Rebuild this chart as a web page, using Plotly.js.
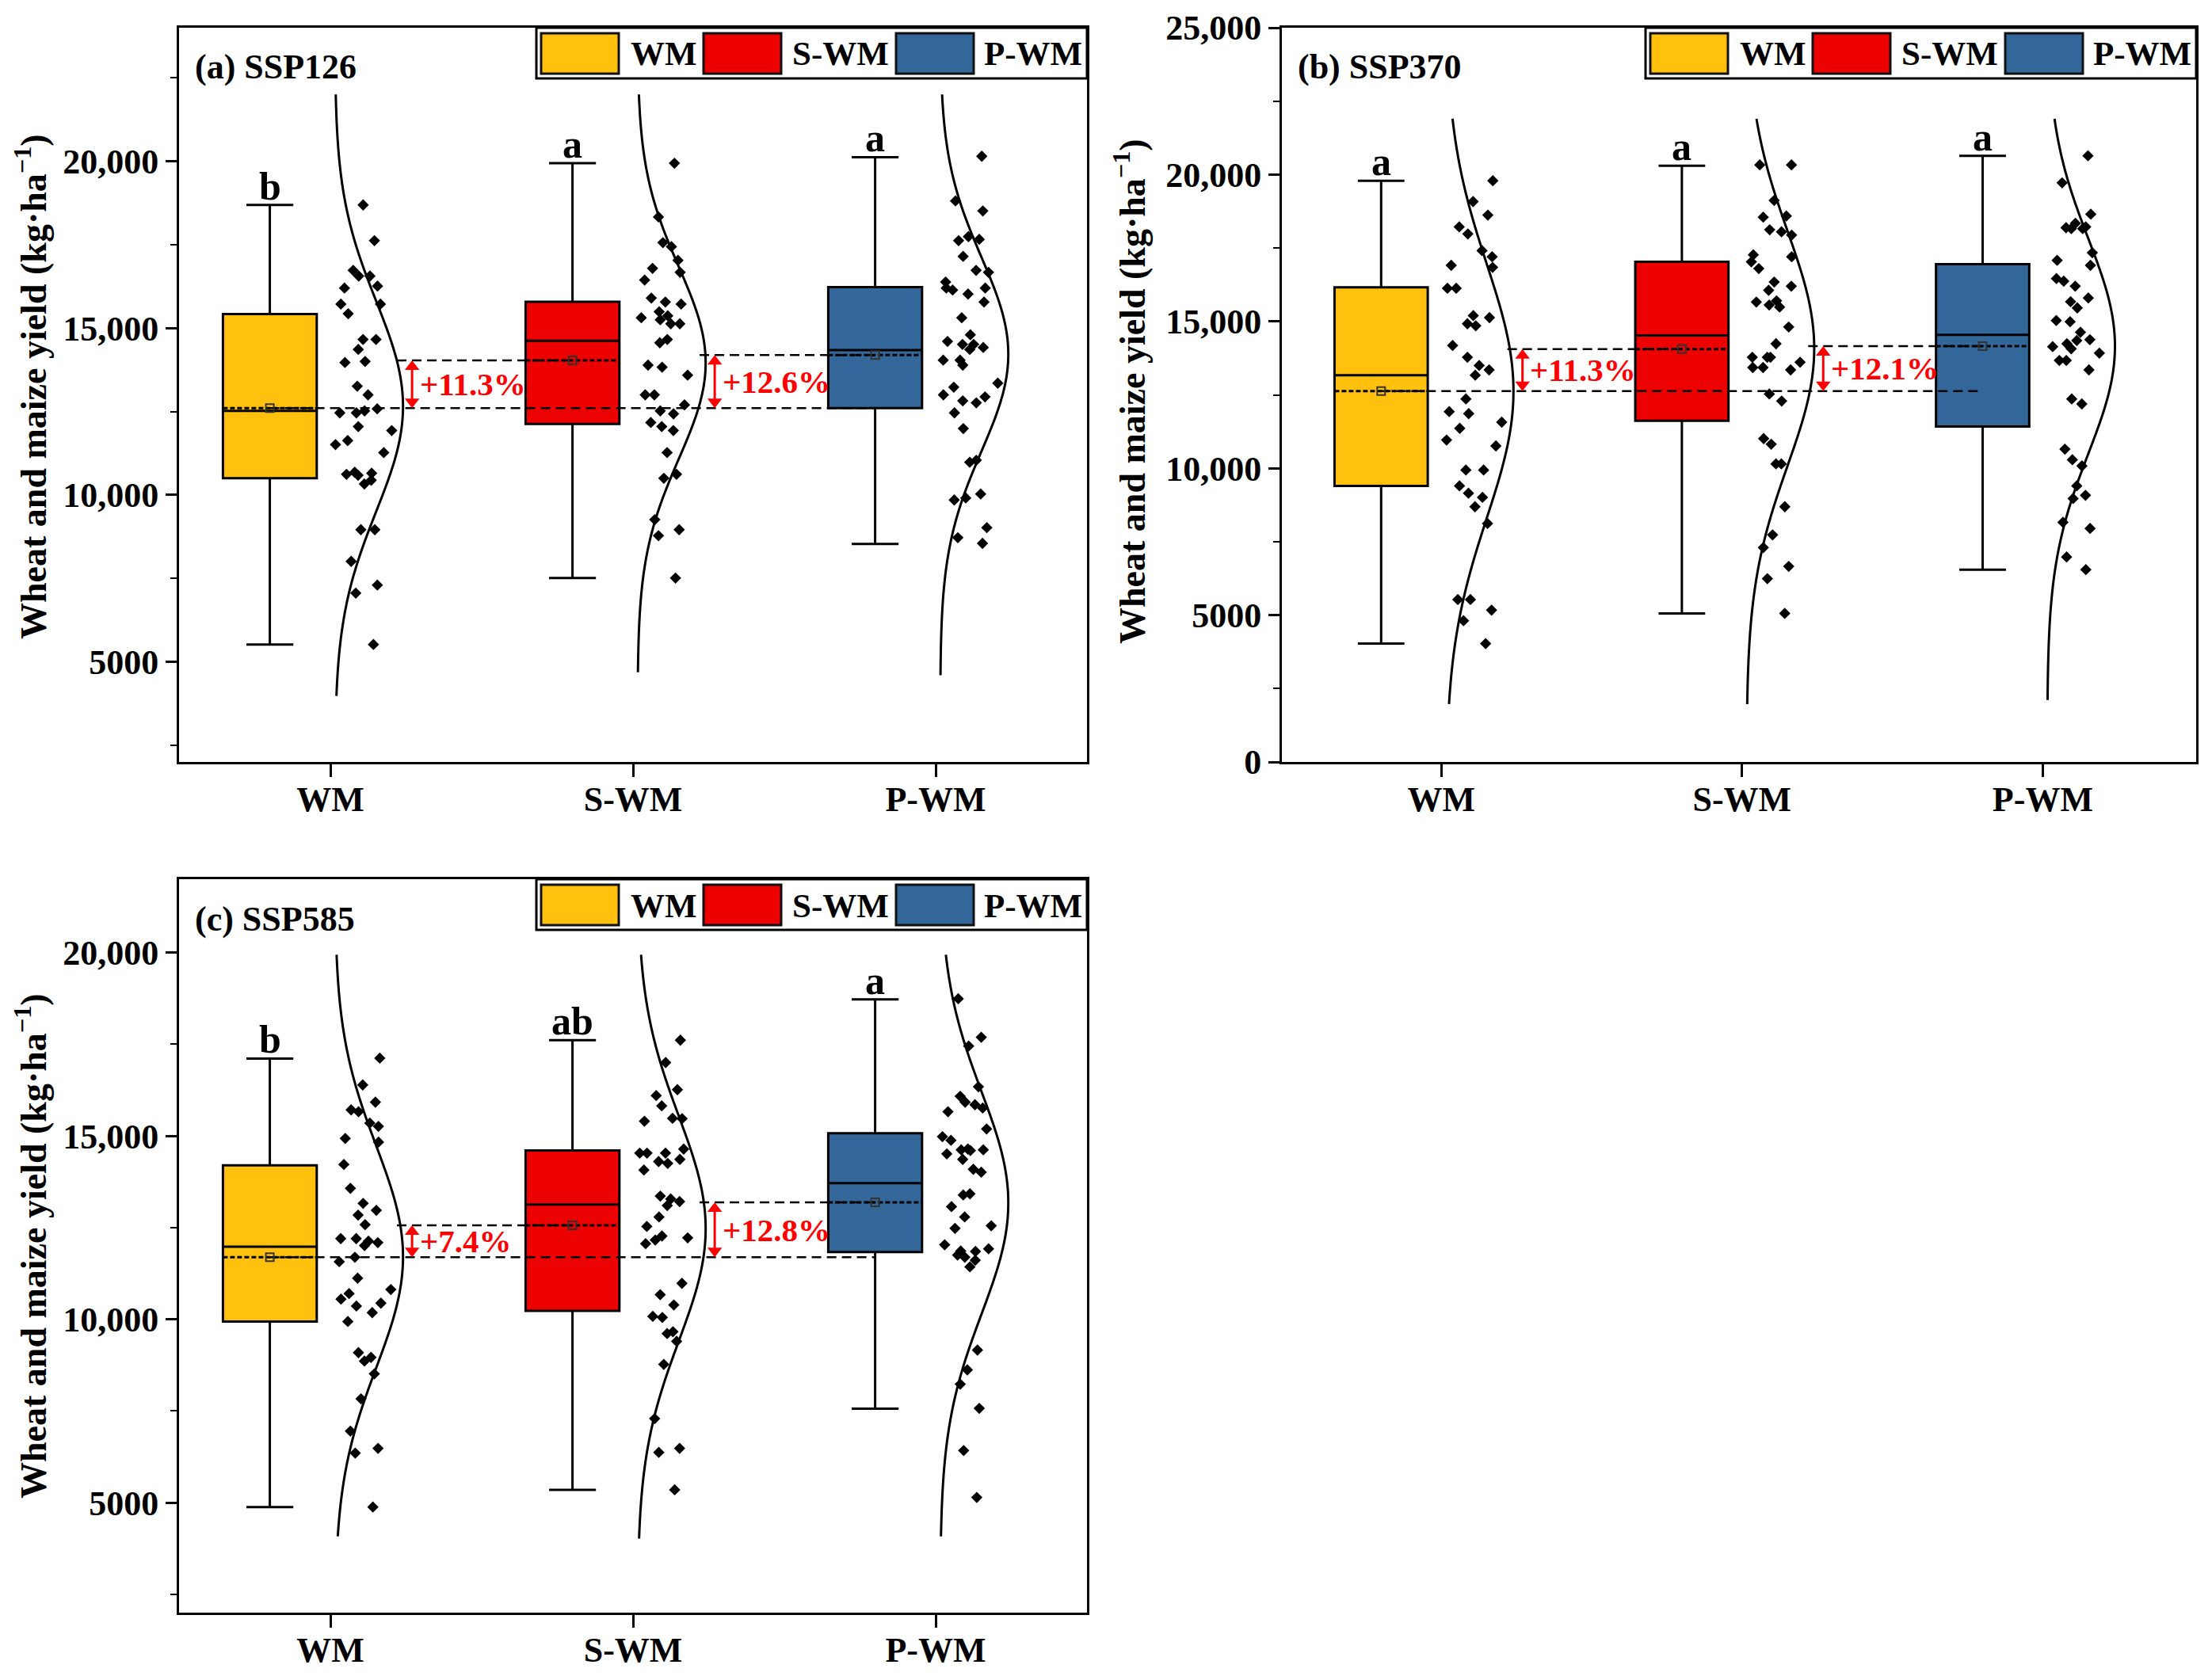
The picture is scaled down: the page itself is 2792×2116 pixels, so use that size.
<!DOCTYPE html>
<html><head><meta charset="utf-8">
<script src="https://cdn.plot.ly/plotly-3.0.1.min.js"></script>
<style>html,body{margin:0;padding:0;background:#fff}#chart{width:2792px;height:2116px}</style>
</head><body><div id="chart"></div>
<script>
// ---------------- DATA ----------------
const categories = ['WM', 'S-WM', 'P-WM'];
const panelTitles = ['(a) SSP126', '(b) SSP370', '(c) SSP585'];

// sample points (kg/ha)
const ssp126_WM  = [18690,17620,16730,16560,16560,16260,16200,15720,15720,15430,14660,14660,14360,14000,13970,13260,13000,12580,12520,12460,12460,12050,11930,11630,11510,11270,10620,10680,10590,10650,10440,10330,8960,8960,8010,7300,7060,5520];
const ssp126_SWM = [19940,18330,17560,17440,17030,16790,16670,16440,15900,15720,15780,15490,15370,15250,15310,15130,15130,14660,14560,13830,13890,13590,13000,13000,12700,12520,12430,12170,12050,11930,11270,10620,10500,9260,8960,8780,7510];
const ssp126_PWM = [20150,18810,18510,17740,17620,17660,17150,16730,16670,16380,16200,15780,16200,16020,16140,15310,14800,14510,14600,14420,14510,14360,14040,13890,14040,13350,13230,13000,12820,12940,12760,12460,11990,11040,10980,10030,9910,9850,9020,8720,8550];

const ssp370_WM  = [19790,19080,18620,18220,17980,17410,17200,16910,16840,16130,16130,15130,14920,15200,14850,14180,13780,13500,13350,13170,12360,11860,11930,11570,11360,10960,10760,9940,9940,9400,9150,9010,8690,8120,5530,5170,5530,4810,4030];
const ssp370_SWM = [20330,20330,19120,18590,18550,18120,17940,18050,17270,17200,17030,16800,16200,16340,16060,15660,15700,15490,15560,14810,14240,13780,13610,13350,13780,13430,13430,13780,12530,12290,11010,10820,10150,10150,8690,7730,7300,6660,6240,5060];
const ssp370_PWM = [20640,19720,18650,18160,18190,18220,18160,18340,17340,16910,17080,16460,16370,16200,15800,15670,15460,14990,15030,14630,14350,14380,14240,14070,14140,13920,13670,13670,13350,12360,12190,10650,10290,10080,9400,9080,8970,8160,7950,6980,6550];

const ssp585_WM  = [17120,16390,15920,15660,15710,15350,15260,14930,14830,14220,13570,13160,12970,12840,12580,12130,12200,12090,12010,12200,11690,11570,11120,10810,10550,10700,10440,10360,10180,9940,8960,9090,8860,8510,7830,6950,6480,6350,4880];
const ssp585_SWM = [17610,17000,16260,16100,15820,15480,15470,15400,14640,14530,14530,14530,14300,14250,14360,14070,13280,13210,13360,13100,12790,12530,12220,12270,12160,12060,10980,10670,10390,10050,10080,9660,9610,9400,8770,7290,6480,6370,5350];
const ssp585_PWM = [18740,17690,17450,16340,16080,15920,15850,15760,15660,15190,14980,14880,14620,14640,14600,14620,14510,14360,14090,14010,13390,13420,13070,12790,12550,12480,11860,12030,11920,11850,11750,11690,11610,11430,9160,8620,8230,7570,6420,5140];

// box statistics
const q1_126 = [10500, 12130, 12600], med_126 = [12520, 14620, 14340], q3_126 = [15420, 15790, 16230];
const lo_126 = [5520, 7510, 8530],   hi_126 = [18690, 19940, 20120], mean_126 = [12600, 14030, 14190];
const q1_370 = [9400, 11620, 11420],  med_370 = [13170, 14520, 14540], q3_370 = [16160, 17030, 16950];
const lo_370 = [4030, 5060, 6550],   hi_370 = [19790, 20300, 20640], mean_370 = [12630, 14060, 14160];
const q1_585 = [9940, 10230, 11830],  med_585 = [11980, 13130, 13710], q3_585 = [14200, 14600, 15070];
const lo_585 = [4880, 5350, 7560],   hi_585 = [17110, 17610, 18720], mean_585 = [11690, 12560, 13190];

// significance letters and increase labels
const letters_126 = ['b', 'a', 'a'], letters_370 = ['a', 'a', 'a'], letters_585 = ['b', 'ab', 'a'];
const pct_126 = ['+11.3%', '+12.6%'], pct_370 = ['+11.3%', '+12.1%'], pct_585 = ['+7.4%', '+12.8%'];

// extent of the fitted normal curves (kg/ha)
const curveLo_126 = [3980, 4690, 4600], curveHi_126 = [22000, 22000, 22000];
const curveLo_370 = [1970, 1970, 2110], curveHi_370 = [21900, 21900, 21900];
const curveLo_585 = [4080, 4020, 4080], curveHi_585 = [19940, 19940, 19940];

// axis ticks
const yTickVals_126 = [5000, 10000, 15000, 20000], yTickText_126 = ['5000', '10,000', '15,000', '20,000'];
const yTickVals_370 = [0, 5000, 10000, 15000, 20000, 25000], yTickText_370 = ['0', '5000', '10,000', '15,000', '20,000', '25,000'];
const yTickVals_585 = [5000, 10000, 15000, 20000], yTickText_585 = ['5000', '10,000', '15,000', '20,000'];
const yTitle = 'Wheat and maize yield (kg·ha<sup>−1</sup>)';

// ---------------- STYLE / LAYOUT ----------------
const W = 2792, H = 2116;
const F = 'Liberation Serif';
const colors = ['#FFC10E', '#EC0000', '#336699'];
const BOX_OFF = -0.2, BOX_W = 0.31, PTS_OFF = 0.115, PTS_W = 0.21;
const CURVE_BASE = 0.015, CURVE_AMP = 0.225, LINE_START = 0.22, ARROW_OFF = 0.27, PCT_OFF = 0.29;
const ARROW_SIZE = 16;
const px = x => x / W, py = y => 1 - y / H;
const font = (size, color) => ({family: F, size: size, color: color || 'black', weight: 'bold'});

const panels = [
  {geo: {l: 226, r: 1372, t: 35, b: 962}, xr: [0.5, 3.5], yr: [2000, 24000], titleX: 39, titleY: 488,
   pts: [ssp126_WM, ssp126_SWM, ssp126_PWM], q1: q1_126, med: med_126, q3: q3_126, lo: lo_126, hi: hi_126, mean: mean_126,
   letters: letters_126, pct: pct_126, cLo: curveLo_126, cHi: curveHi_126, tv: yTickVals_126, tt: yTickText_126},
  {geo: {l: 1618, r: 2772, t: 35, b: 962}, xr: [0.47, 3.51], yr: [0, 25000], titleX: 1426, titleY: 494,
   pts: [ssp370_WM, ssp370_SWM, ssp370_PWM], q1: q1_370, med: med_370, q3: q3_370, lo: lo_370, hi: hi_370, mean: mean_370,
   letters: letters_370, pct: pct_370, cLo: curveLo_370, cHi: curveHi_370, tv: yTickVals_370, tt: yTickText_370},
  {geo: {l: 226, r: 1372, t: 1110, b: 2036}, xr: [0.5, 3.5], yr: [2000, 22000], titleX: 39, titleY: 1573,
   pts: [ssp585_WM, ssp585_SWM, ssp585_PWM], q1: q1_585, med: med_585, q3: q3_585, lo: lo_585, hi: hi_585, mean: mean_585,
   letters: letters_585, pct: pct_585, cLo: curveLo_585, cHi: curveHi_585, tv: yTickVals_585, tt: yTickText_585}
];

const traces = [], annotations = [], shapes = [];
const layout = {
  width: W, height: H, margin: {l: 0, r: 0, t: 0, b: 0},
  paper_bgcolor: 'white', plot_bgcolor: 'white', showlegend: false, boxmode: 'overlay',
  font: font(40)
};

function normalCurve(pts, lo, hi, base) {
  const n = pts.length;
  const mu = pts.reduce((a, b) => a + b, 0) / n;
  const sd = Math.sqrt(pts.reduce((a, b) => a + (b - mu) * (b - mu), 0) / (n - 1));
  const xs = [], ys = [];
  for (let i = 0; i <= 160; i++) {
    const y = lo + (hi - lo) * i / 160;
    ys.push(y);
    xs.push(base + CURVE_AMP * Math.exp(-0.5 * Math.pow((y - mu) / sd, 2)));
  }
  return {xs, ys};
}

panels.forEach((p, pi) => {
  const sfx = pi === 0 ? '' : String(pi + 1);
  const xa = 'x' + sfx, ya = 'y' + sfx;
  const g = p.geo;
  const dpp = (p.yr[1] - p.yr[0]) / (g.b - g.t); // data units per pixel
  const axBase = {
    showgrid: false, zeroline: false, showline: true, linecolor: 'black', linewidth: 3, mirror: true,
    ticks: 'outside', tickcolor: 'black', tickwidth: 3, tickfont: font(44), fixedrange: true
  };
  layout['xaxis' + sfx] = Object.assign({}, axBase, {
    domain: [px(g.l), px(g.r)], range: p.xr, anchor: ya, tickmode: 'array',
    tickvals: [1, 2, 3], ticktext: categories, ticklen: 16, ticklabelstandoff: -10
  });
  layout['yaxis' + sfx] = Object.assign({}, axBase, {
    domain: [py(g.b), py(g.t)], range: p.yr, anchor: xa, tickmode: 'array',
    tickvals: p.tv, ticktext: p.tt, ticklen: 14,
    minor: {ticks: 'outside', ticklen: 8, tickwidth: 2, tickcolor: 'black', tickmode: 'linear', tick0: 0, dtick: 2500, showgrid: false}
  });

  categories.forEach((c, k) => {
    const pos = k + 1;
    const cv = normalCurve(p.pts[k], p.cLo[k], p.cHi[k], pos + CURVE_BASE);
    traces.push({type: 'scatter', mode: 'lines', x: cv.xs, y: cv.ys, xaxis: xa, yaxis: ya,
      line: {color: 'black', width: 3, shape: 'spline'}, hoverinfo: 'skip'});
    traces.push({type: 'box', name: c, x: [pos + BOX_OFF], q1: [p.q1[k]], median: [p.med[k]], q3: [p.q3[k]],
      lowerfence: [p.lo[k]], upperfence: [p.hi[k]], mean: [p.mean[k]], width: BOX_W, whiskerwidth: 0.5,
      fillcolor: colors[k], line: {color: 'black', width: 3}, boxpoints: false, xaxis: xa, yaxis: ya});
    traces.push({type: 'box', name: c + ' points', x0: pos + PTS_OFF, y: p.pts[k], width: PTS_W,
      boxpoints: 'all', jitter: 1, pointpos: 0, fillcolor: 'rgba(0,0,0,0)', line: {width: 0, color: 'rgba(0,0,0,0)'},
      marker: {symbol: 'diamond', size: 11, color: 'black', line: {width: 0}}, xaxis: xa, yaxis: ya, hoverinfo: 'y'});
    annotations.push({xref: xa, yref: ya, x: pos + BOX_OFF, y: p.hi[k], text: p.letters[k], showarrow: false,
      yanchor: 'bottom', yshift: -6, font: font(50)});
  });

  // dashed comparison lines
  traces.push({type: 'scatter', mode: 'lines', x: [1 + BOX_OFF, 3 + BOX_OFF], y: [p.mean[0], p.mean[0]],
    xaxis: xa, yaxis: ya, line: {color: 'black', width: 2.5, dash: '12px,7px'}, hoverinfo: 'skip'});
  [1, 2].forEach(k => {
    const ax = k + ARROW_OFF;
    traces.push({type: 'scatter', mode: 'lines', x: [k + LINE_START, k + 1 + BOX_OFF], y: [p.mean[k], p.mean[k]],
      xaxis: xa, yaxis: ya, line: {color: 'black', width: 2.5, dash: '12px,7px'}, hoverinfo: 'skip'});
    const r = ARROW_SIZE / 2;
    traces.push({type: 'scatter', mode: 'lines', x: [ax, ax], y: [p.mean[0] + r * dpp, p.mean[k] - r * dpp],
      xaxis: xa, yaxis: ya, line: {color: '#FF0000', width: 3}, hoverinfo: 'skip'});
    traces.push({type: 'scatter', mode: 'markers', x: [ax, ax], y: [p.mean[k] - r * dpp, p.mean[0] + r * dpp],
      xaxis: xa, yaxis: ya, marker: {symbol: ['triangle-up', 'triangle-down'], size: ARROW_SIZE, color: '#FF0000', line: {width: 0}},
      hoverinfo: 'skip'});
    annotations.push({xref: xa, yref: ya, x: k + PCT_OFF, y: (p.mean[0] + p.mean[k]) / 2, text: p.pct[k - 1],
      showarrow: false, xanchor: 'left', yanchor: 'middle', font: font(41, '#FF0000')});
  });

  traces.push({type: 'scatter', mode: 'markers', x: [1 + BOX_OFF, 2 + BOX_OFF, 3 + BOX_OFF], y: p.mean,
    xaxis: xa, yaxis: ya, marker: {symbol: 'square-open', size: 10, color: '#333', line: {width: 2}}, hoverinfo: 'y'});

  annotations.push({xref: 'paper', yref: 'paper', x: px(g.l + 18), y: py(g.t + 50), text: panelTitles[pi],
    showarrow: false, xanchor: 'left', yanchor: 'middle', font: font(44)});
  annotations.push({xref: 'paper', yref: 'paper', x: px(p.titleX), y: py(p.titleY), text: yTitle, textangle: -90,
    showarrow: false, xanchor: 'center', yanchor: 'middle', font: font(46)});

  shapes.push({type: 'rect', xref: 'paper', yref: 'paper', x0: px(g.r - 695), x1: px(g.r), y0: py(g.t + 64), y1: py(g.t),
    line: {color: 'black', width: 3}, fillcolor: 'white', layer: 'above'});
  const swX = [-689, -484, -241], txX = [-578, -374, -132];
  categories.forEach((c, k) => {
    shapes.push({type: 'rect', xref: 'paper', yref: 'paper', x0: px(g.r + swX[k]), x1: px(g.r + swX[k] + 98),
      y0: py(g.t + 58), y1: py(g.t + 7), line: {color: '#111', width: 3}, fillcolor: colors[k], layer: 'above'});
    annotations.push({xref: 'paper', yref: 'paper', x: px(g.r + txX[k]), y: py(g.t + 33), text: c, showarrow: false,
      xanchor: 'left', yanchor: 'middle', font: font(43)});
  });
});

layout.annotations = annotations;
layout.shapes = shapes;
Plotly.newPlot('chart', traces, layout, {staticPlot: true, displayModeBar: false});
</script></body></html>
